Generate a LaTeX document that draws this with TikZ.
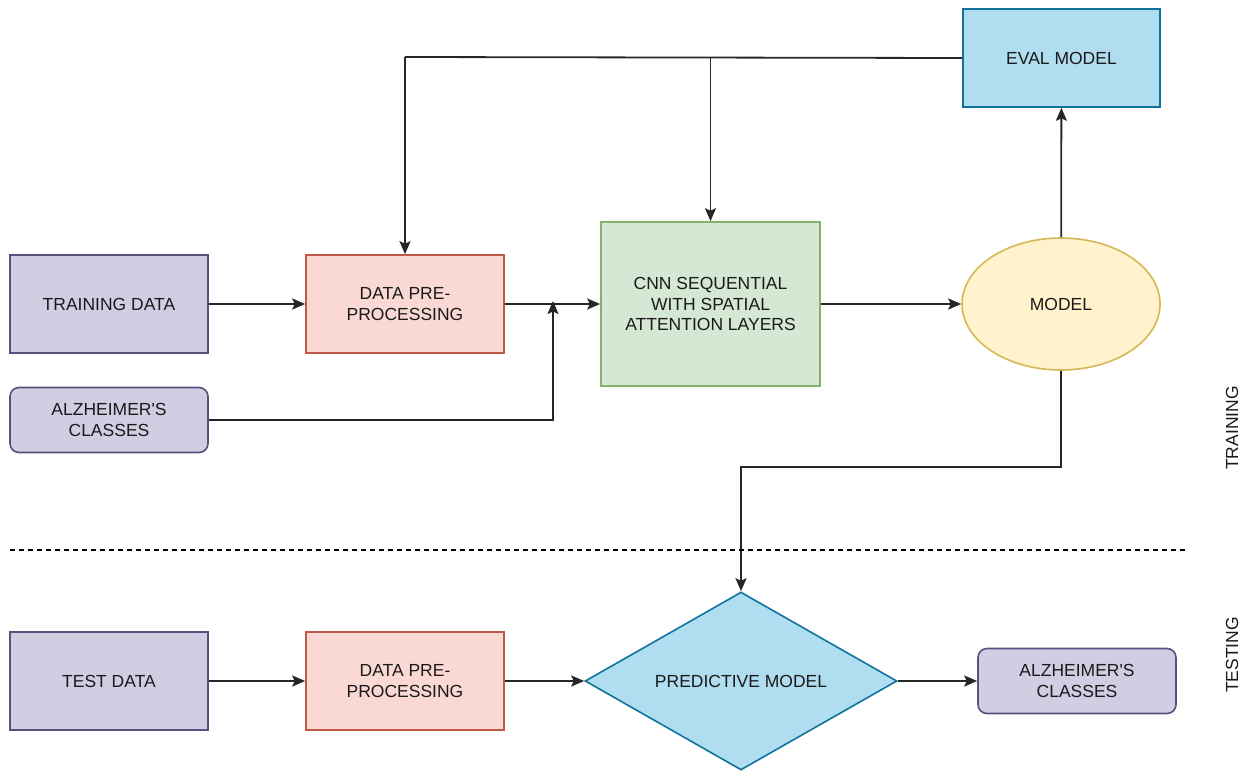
\documentclass[tikz,border=0pt]{standalone}
\usepackage{fontspec}
\setmainfont{Liberation Sans}[Ligatures=TeXOff]
\usetikzlibrary{arrows.meta,shapes.geometric}
\definecolor{purfill}{HTML}{D0CEE2}\definecolor{purdraw}{HTML}{56517E}
\definecolor{redfill}{HTML}{FAD9D5}\definecolor{reddraw}{HTML}{C0584A}
\definecolor{grnfill}{HTML}{D5E8D4}\definecolor{grndraw}{HTML}{82B366}
\definecolor{yelfill}{HTML}{FFF2CC}\definecolor{yeldraw}{HTML}{D6B656}
\definecolor{blufill}{HTML}{B1DDF0}\definecolor{bludraw}{HTML}{10739E}
\definecolor{txt}{HTML}{1A1A1A}
\begin{document}
\begin{tikzpicture}[x=1pt,y=-1pt,
  every node/.style={font=\fontsize{17.5}{20.5}\selectfont, text=txt, align=center, inner sep=0pt, line width=1.6pt},
  purbox/.style={draw=purdraw, fill=purfill, minimum width=198pt, minimum height=98pt},
  purround/.style={draw=purdraw, fill=purfill, rounded corners=9pt, minimum width=198pt, minimum height=65pt},
  redbox/.style={draw=reddraw, fill=redfill, minimum width=198pt, minimum height=98pt},
  conn/.style={draw=black!85, line width=1.8pt, -{Stealth[length=13pt,width=11pt,inset=2.5pt]}},
  plain/.style={draw=black!85, line width=1.8pt}]
\useasboundingbox (0,0) rectangle (1246,772);
\node[purbox] (train) at (109,304) {TRAINING DATA};
\node[redbox] (pre1) at (405,304) {DATA PRE-\\PROCESSING};
\node[purround] (alz1) at (109,420) {ALZHEIMER'S\\CLASSES};
\node[draw=grndraw, fill=grnfill, minimum width=219pt, minimum height=164pt] (cnn) at (710.5,304) {CNN SEQUENTIAL\\WITH SPATIAL\\ATTENTION LAYERS};
\node[ellipse, draw=yeldraw, fill=yelfill, minimum width=198pt, minimum height=132pt] (model) at (1061,304) {MODEL};
\node[draw=bludraw, fill=blufill, minimum width=197pt, minimum height=98pt] (eval) at (1061.5,58) {EVAL MODEL};
\node[purbox] (test) at (109,681) {TEST DATA};
\node[redbox] (pre2) at (405,681) {DATA PRE-\\PROCESSING};
\node[diamond, aspect=1.75, draw=bludraw, fill=blufill, minimum width=312pt, minimum height=178pt] (pred) at (741,681) {PREDICTIVE MODEL};
\node[purround] (alz2) at (1077,681) {ALZHEIMER'S\\CLASSES};
\node[rotate=90] (trlab) at (1232,428) {TRAINING};
\node[rotate=90] (telab) at (1232,655) {TESTING};
\coordinate (top1) at (405,57);
\coordinate (top2) at (710.5,57);
\coordinate (join) at (553,304);
\coordinate (turn) at (741,467);
\coordinate (dl) at (10,550);
\coordinate (dr) at (1188,550);
% connectors
\draw[conn] (train) -- (pre1);
\draw[conn] (pre1) -- (cnn);
\draw[conn] (alz1.east) -| ([yshift=3pt]join);
\draw[conn] (cnn) -- (model);
\draw[conn] (model) -- (eval);
\draw[plain] (eval.west) -- (top1);
\draw[conn] (top1) -- (pre1.north);
\draw[conn] (top2) -- (cnn.north);
\draw[conn] (model.south) |- (turn) -- (pred.north);
\draw[conn] (test) -- (pre2);
\draw[conn] (pre2) -- (pred);
\draw[conn] (pred) -- (alz2);
\draw[line width=1.5pt, dash pattern=on 5pt off 4pt] (dl) -- (dr);
\end{tikzpicture}
\end{document}
